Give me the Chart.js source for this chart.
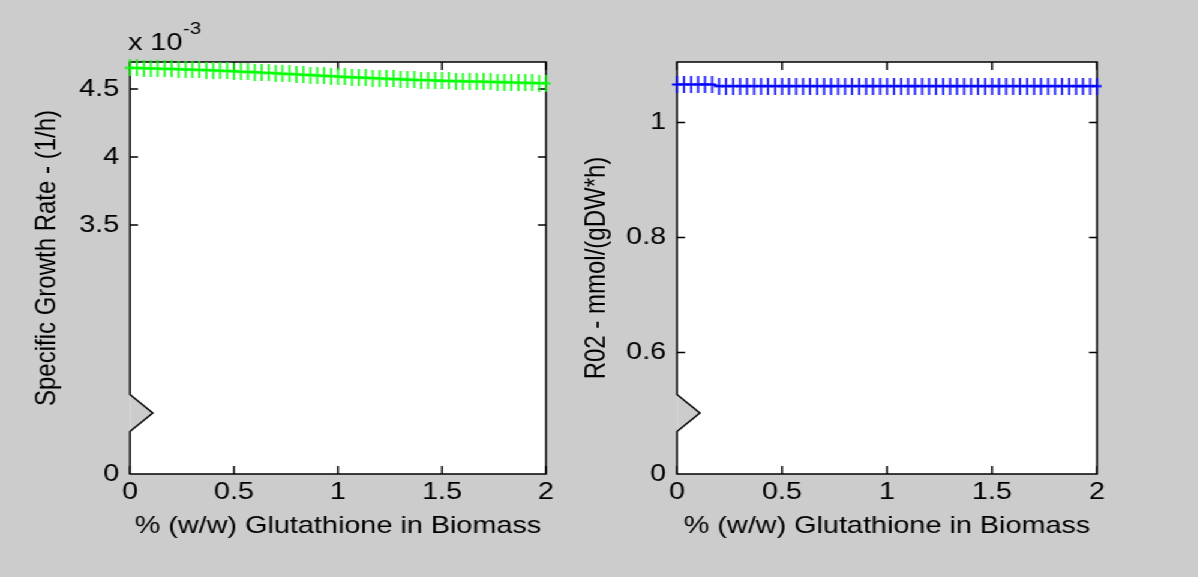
<!DOCTYPE html>
<html>
<head>
<meta charset="utf-8">
<title>Glutathione in Biomass</title>
<script src="https://cdn.jsdelivr.net/npm/chart.js@4.4.0/dist/chart.umd.min.js"></script>
<style>
  html, body { margin: 0; padding: 0; background: #cccccc; overflow: hidden; }
  /* the original figure is stretched sideways, so draw narrower and scale */
  #figure { position: absolute; left: 0; top: 0; width: 998px; height: 577px; transform: scaleX(1.2); transform-origin: 0 0; }
  #figure canvas { position: absolute; top: 0; }
</style>
</head>
<body>
<div id="figure">
  <canvas id="growthChart" width="475" height="577" style="left:0"></canvas>
  <canvas id="r02Chart" width="523" height="577" style="left:475px"></canvas>
</div>
<script>
// % (w/w) glutathione in biomass
const glutathione = [0, 0.033, 0.067, 0.1, 0.133, 0.167, 0.2, 0.233, 0.267, 0.3,
    0.333, 0.367, 0.4, 0.433, 0.467, 0.5, 0.533, 0.567, 0.6, 0.633,
    0.667, 0.7, 0.733, 0.767, 0.8, 0.833, 0.867, 0.9, 0.933, 0.967,
    1, 1.033, 1.067, 1.1, 1.133, 1.167, 1.2, 1.233, 1.267, 1.3,
    1.333, 1.367, 1.4, 1.433, 1.467, 1.5, 1.533, 1.567, 1.6, 1.633,
    1.667, 1.7, 1.733, 1.767, 1.8, 1.833, 1.867, 1.9, 1.933, 1.967, 2];

// specific growth rate, 1/h (x 10^-3)
const growthRate = [4.656, 4.655, 4.653, 4.652, 4.651, 4.649, 4.648, 4.646, 4.644, 4.643,
    4.641, 4.639, 4.637, 4.635, 4.633, 4.631, 4.628, 4.626, 4.624, 4.621,
    4.619, 4.616, 4.613, 4.611, 4.608, 4.605, 4.603, 4.600, 4.597, 4.595,
    4.592, 4.589, 4.587, 4.585, 4.583, 4.580, 4.578, 4.576, 4.574, 4.572,
    4.570, 4.568, 4.566, 4.565, 4.563, 4.561, 4.560, 4.558, 4.557, 4.556,
    4.555, 4.554, 4.553, 4.551, 4.550, 4.549, 4.547, 4.546, 4.545, 4.543, 4.542];

// R02 flux, mmol/(gDW*h)
const r02 = [1.066, 1.066, 1.066, 1.066, 1.066, 1.066, 1.063, 1.063, 1.063, 1.063,
    1.063, 1.063, 1.063, 1.063, 1.063, 1.063, 1.063, 1.063, 1.063, 1.063,
    1.063, 1.063, 1.063, 1.063, 1.063, 1.063, 1.063, 1.063, 1.063, 1.063,
    1.063, 1.063, 1.063, 1.063, 1.063, 1.063, 1.063, 1.063, 1.063, 1.063,
    1.063, 1.063, 1.063, 1.063, 1.063, 1.063, 1.063, 1.063, 1.063, 1.063,
    1.063, 1.063, 1.063, 1.063, 1.063, 1.063, 1.063, 1.063, 1.063, 1.063, 1.063];

const xTicks = [0, 0.5, 1, 1.5, 2];
const growthTicks = [3.5, 4, 4.5];
const r02Ticks = [0.6, 0.8, 1];

const FONT = { family: '"Liberation Sans", Arial, sans-serif', size: 24 };
const BG = '#cccccc';

// '+' marker, tall vertical bar with short arm
function plusMarker(color) {
    const c = document.createElement('canvas');
    c.width = 8;
    c.height = 17;
    const g = c.getContext('2d');
    g.fillStyle = color;
    g.fillRect(3.2, 0, 1.6, 17);
    g.fillRect(0, 7.5, 8, 2);
    return c;
}

// white axes box, inward ticks on all sides, zigzag break on the y axis
const matlabAxes = {
    id: 'matlabAxes',
    beforeDraw(chart) {
        const a = chart.chartArea;
        const ctx = chart.ctx;
        ctx.save();
        ctx.fillStyle = '#ffffff';
        ctx.fillRect(a.left, a.top, a.right - a.left, a.bottom - a.top);
        ctx.restore();
    },
    beforeDatasetsDraw(chart, args, opts) {
        const a = chart.chartArea;
        const ctx = chart.ctx;
        const xs = chart.scales.x;
        const ys = chart.scales.y;
        const bY = a.bottom - 61, bH = 18.5, bW = 19;

        ctx.save();
        ctx.fillStyle = BG;
        ctx.beginPath();
        ctx.moveTo(a.left, bY - bH);
        ctx.lineTo(a.left + bW, bY);
        ctx.lineTo(a.left, bY + bH);
        ctx.closePath();
        ctx.fill();

        ctx.strokeStyle = '#000';
        ctx.lineWidth = 1.5;
        ctx.beginPath();
        ctx.moveTo(a.left, a.top);
        ctx.lineTo(a.right, a.top);
        ctx.lineTo(a.right, a.bottom);
        ctx.lineTo(a.left, a.bottom);
        ctx.lineTo(a.left, bY + bH);
        ctx.lineTo(a.left + bW, bY);
        ctx.lineTo(a.left, bY - bH);
        ctx.closePath();
        ctx.stroke();

        ctx.beginPath();
        xTicks.forEach(v => {
            const px = xs.getPixelForValue(v);
            ctx.moveTo(px, a.bottom);
            ctx.lineTo(px, a.bottom - 8);
            ctx.moveTo(px, a.top);
            ctx.lineTo(px, a.top + 8);
        });
        opts.ticks.forEach(v => {
            const py = ys.getPixelForValue(v);
            ctx.moveTo(a.left, py);
            ctx.lineTo(a.left + 6.7, py);
            ctx.moveTo(a.right, py);
            ctx.lineTo(a.right - 6.7, py);
        });
        ctx.stroke();
        ctx.restore();
    },
    afterDraw(chart, args, opts) {
        if (!opts.exponent) return;
        const a = chart.chartArea;
        const ctx = chart.ctx;
        ctx.save();
        ctx.fillStyle = '#000';
        ctx.textBaseline = 'alphabetic';
        ctx.font = '24px ' + FONT.family;
        const base = 'x 10';
        ctx.fillText(base, a.left - 1.6, 50);
        const w = ctx.measureText(base).width;
        ctx.font = '17px ' + FONT.family;
        ctx.fillText(opts.exponent, a.left - 1.6 + w + 0.5, 34);
        ctx.restore();
    }
};

function makeChart(id, values, color, yMin, yMax, yTicks, yTitle, cfg) {
    const ctx = document.getElementById(id).getContext('2d');
    return new Chart(ctx, {
        type: 'line',
        data: {
            datasets: [{
                data: glutathione.map((x, i) => ({ x: x, y: values[i] })),
                borderColor: color,
                borderWidth: 1.8,
                pointStyle: plusMarker(color),
                pointRadius: 5,
                tension: 0,
                fill: false,
                clip: false
            }]
        },
        options: {
            responsive: false,
            animation: false,
            layout: { padding: { top: 62, right: cfg.right, bottom: 0, left: 0 } },
            plugins: {
                legend: { display: false },
                tooltip: { enabled: false },
                matlabAxes: { ticks: yTicks, exponent: cfg.exponent }
            },
            scales: {
                x: {
                    type: 'linear',
                    min: 0,
                    max: 2,
                    afterBuildTicks: s => { s.ticks = xTicks.map(v => ({ value: v })); },
                    afterFit: s => { s.height = 103; },
                    grid: { display: false, drawTicks: false },
                    border: { display: false },
                    ticks: {
                        color: '#000', font: FONT, padding: 4,
                        maxRotation: 0, autoSkip: false,
                        callback: v => String(v)
                    },
                    title: {
                        display: true,
                        text: '% (w/w) Glutathione in Biomass',
                        color: '#000', font: FONT,
                        padding: { top: 0, bottom: 36.6 }
                    }
                },
                y: {
                    type: 'linear',
                    min: yMin,
                    max: yMax,
                    // the bottom of the broken axis is labelled 0
                    afterBuildTicks: s => { s.ticks = [yMin].concat(yTicks).map(v => ({ value: v })); },
                    afterFit: s => { s.width = cfg.yWidth; },
                    grid: { display: false, drawTicks: false },
                    border: { display: false },
                    ticks: {
                        color: '#000', font: FONT, padding: 9,
                        autoSkip: false,
                        callback: v => (v === yMin ? '0' : String(v))
                    },
                    title: {
                        display: true,
                        text: yTitle,
                        color: '#000', font: FONT,
                        padding: { top: cfg.titlePad, bottom: 0 }
                    }
                }
            }
        },
        plugins: [matlabAxes]
    });
}

makeChart('growthChart', growthRate, '#00ff00', 1.669, 4.699, growthTicks,
    '   Specific Growth Rate - (1/h)',
    { right: 20, yWidth: 108.3, titlePad: 24.8, exponent: '-3' });

makeChart('r02Chart', r02, '#0000ff', 0.389, 1.105, r02Ticks,
    'R02 - mmol/(gDW*h)',
    { right: 83.8, yWidth: 89.2, titlePad: 7.85 });
</script>
</body>
</html>
